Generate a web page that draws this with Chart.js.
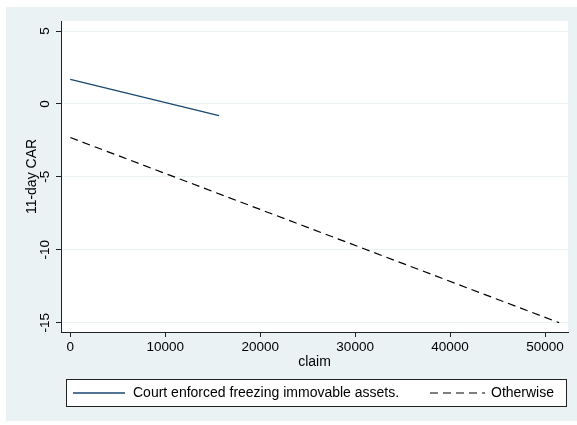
<!DOCTYPE html>
<html>
<head>
<meta charset="utf-8">
<script src="https://cdn.jsdelivr.net/npm/chart.js@4.4.1/dist/chart.umd.min.js"></script>
<style>
  html, body { margin: 0; padding: 0; background: #ffffff; }
  #wrap { width: 577px; height: 425px; position: relative; }
  canvas { display: block; }
</style>
</head>
<body>
<div id="wrap"><canvas id="c" width="577" height="425"></canvas></div>
<script>
// Fitted 11-day CAR against claim size, by enforcement outcome
const seriesNames = ['Court enforced freezing immovable assets.', 'Otherwise'];
const frozenClaims = [0, 15660];
const frozenCAR = [1.69, -0.80];
const otherClaims = [0, 51480];
const otherCAR = [-2.30, -15.00];
const xTickValues = [0, 10000, 20000, 30000, 40000, 50000];
const yTickValues = [-15, -10, -5, 0, 5];

const FONT = '"Liberation Sans", Arial, Helvetica, sans-serif';
const REGION = '#EAF2F3';
const AXIS = '#222222';

const toPoints = (xs, ys) => xs.map((x, i) => ({ x: x, y: ys[i] }));

// Graph region fill and white plot region behind the data
const backdrop = {
  id: 'backdrop',
  beforeDraw(chart) {
    const { ctx, chartArea: a } = chart;
    ctx.save();
    ctx.fillStyle = '#ffffff';
    ctx.fillRect(0, 0, chart.width, chart.height);
    ctx.fillStyle = REGION;
    ctx.fillRect(6, 7, chart.width - 6, chart.height - 11);
    ctx.fillStyle = '#ffffff';
    ctx.fillRect(a.left, a.top, a.right - a.left, a.bottom - a.top);
    ctx.restore();
  }
};

// Boxed legend below the plot, one key per dataset
const boxedLegend = {
  id: 'boxedLegend',
  afterDraw(chart, args, opts) {
    const { ctx } = chart;
    const b = opts.box;
    ctx.save();
    ctx.fillStyle = '#ffffff';
    ctx.fillRect(b.x, b.y, b.w, b.h);
    ctx.strokeStyle = AXIS;
    ctx.lineWidth = 1;
    ctx.strokeRect(b.x + 0.5, b.y + 0.5, b.w, b.h);
    const cy = b.y + b.h / 2 + 0.5;
    chart.data.datasets.forEach((ds, i) => {
      const k = opts.keys[i];
      ctx.beginPath();
      ctx.setLineDash(ds.borderDash || []);
      ctx.strokeStyle = ds.borderColor;
      ctx.lineWidth = ds.borderWidth;
      ctx.moveTo(k.x0, cy);
      ctx.lineTo(k.x1, cy);
      ctx.stroke();
      ctx.setLineDash([]);
      ctx.fillStyle = '#000000';
      ctx.font = '14px ' + FONT;
      ctx.textBaseline = 'middle';
      ctx.textAlign = 'left';
      ctx.fillText(ds.label, k.tx, cy);
    });
    ctx.restore();
  }
};

new Chart(document.getElementById('c'), {
  type: 'line',
  data: {
    datasets: [
      {
        label: seriesNames[0],
        data: toPoints(frozenClaims, frozenCAR),
        borderColor: '#1a476f',
        borderWidth: 1.3,
        pointRadius: 0,
        fill: false,
        tension: 0
      },
      {
        label: seriesNames[1],
        data: toPoints(otherClaims, otherCAR),
        borderColor: '#000000',
        borderWidth: 1.2,
        borderDash: [8, 5],
        pointRadius: 0,
        fill: false,
        tension: 0
      }
    ]
  },
  options: {
    responsive: false,
    devicePixelRatio: 1,
    animation: false,
    layout: { padding: { left: 6, top: 21, right: 9, bottom: 53 } },
    plugins: {
      legend: { display: false },
      tooltip: { enabled: false },
      boxedLegend: {
        box: { x: 66, y: 379, w: 500, h: 27 },
        keys: [
          { x0: 73, x1: 125, tx: 133 },
          { x0: 430, x1: 485, tx: 491 }
        ]
      }
    },
    scales: {
      x: {
        type: 'linear',
        position: 'bottom',
        min: -980,
        max: 52420,
        afterBuildTicks: s => { s.ticks = xTickValues.map(v => ({ value: v })); },
        afterFit: s => { s.height = 40; },
        ticks: {
          autoSkip: false,
          maxRotation: 0,
          padding: 2,
          color: '#000000',
          font: { family: FONT, size: 13.5 },
          callback: v => String(v)
        },
        grid: { drawOnChartArea: false, tickLength: 5, tickColor: AXIS, tickWidth: 1 },
        border: { display: true, color: AXIS, width: 1 },
        title: {
          display: true,
          text: 'claim',
          color: '#000000',
          font: { family: FONT, size: 14 },
          padding: { top: 0, bottom: 1 }
        }
      },
      y: {
        type: 'linear',
        min: -15.64,
        max: 5.69,
        afterBuildTicks: s => { s.ticks = yTickValues.map(v => ({ value: v })); },
        afterFit: s => { s.width = 55; },
        ticks: {
          autoSkip: false,
          minRotation: 90,
          maxRotation: 90,
          crossAlign: 'center',
          padding: 1,
          color: '#000000',
          font: { family: FONT, size: 13.5 },
          callback: v => String(v)
        },
        grid: { color: REGION, lineWidth: 1, tickLength: 5, tickColor: AXIS, tickWidth: 1 },
        border: { display: true, color: AXIS, width: 1 },
        title: {
          display: true,
          text: '11-day CAR',
          color: '#000000',
          font: { family: FONT, size: 14 },
          padding: { top: 18, bottom: 0 }
        }
      }
    }
  },
  plugins: [backdrop, boxedLegend]
});
</script>
</body>
</html>
